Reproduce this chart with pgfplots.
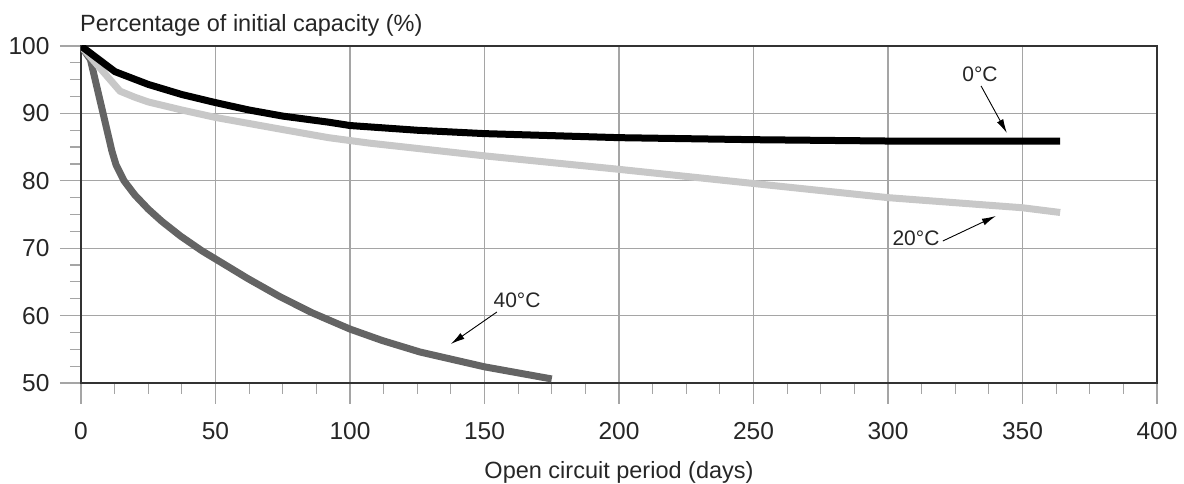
\documentclass[border=0pt]{standalone}
\usepackage{pgfplots}
\pgfplotsset{compat=1.18}
\usepackage{fontspec}
\setmainfont{Liberation Sans}
\usetikzlibrary{arrows.meta}
\definecolor{lightc}{RGB}{200,200,200}
\definecolor{darkc}{RGB}{100,100,100}
\definecolor{gridc}{RGB}{165,165,165}
\begin{document}
\begin{tikzpicture}
\begin{axis}[
  name=ax,
  scale only axis,
  width=1076pt, height=337pt,
  xmin=0, xmax=400, ymin=50, ymax=100,
  xtick={0,50,...,400}, ytick={50,60,...,100},
  minor x tick num=3, minor y tick num=3,
  tick align=outside,
  xtick pos=bottom, ytick pos=left,
  major tick length=21pt, minor tick length=11pt,
  grid=major,
  major grid style={color=gridc, line width=1.2pt},
  every tick/.style={color=gridc, line width=1.2pt},
  axis line style={color=black!80, line width=1.3pt},
  tick label style={font=\fontsize{24.5}{28}\selectfont, text=black!85},
  xticklabel style={yshift=-15pt},
  yticklabel style={xshift=-7pt},
  /pgf/number format/assume math mode=true,
  every axis plot/.append style={line join=round},
]
\addplot[color=darkc, line width=7pt] coordinates {
(0,100) (3.5,98) (11.5,84.4) (13,82.4) (16,80) (20,77.9) (25,75.8) (30,74.0)
(37,71.8) (45,69.6) (50,68.4) (62,65.5) (74,62.8) (86,60.4) (100,58.0) (112,56.3)
(126,54.6) (150,52.4) (175,50.6)};
\addplot[color=lightc, line width=7pt] coordinates {
(0,100) (3,98.6) (14.5,93.3) (20,92.4) (25,91.7) (37.5,90.5) (50,89.4) (62.5,88.5) (75,87.6) (92,86.4)
(107,85.6) (150,83.7) (200,81.7) (250,79.6) (300,77.5) (350,76.0) (364,75.3)};
\addplot[color=black, line width=7pt] coordinates {
(0,100) (12.6,96.2) (25,94.3) (37.5,92.8) (50,91.6) (62.5,90.5) (75,89.6) (92,88.7)
(100,88.2) (125,87.5) (150,87.0) (200,86.4) (250,86.1) (300,85.9) (364,85.9)};
\node[font=\fontsize{21}{25}\selectfont, text=black!85] at (axis cs:334.2,95.85) {0°C};
\draw[line width=0.9pt, -{Latex[length=14pt,width=7pt]}] (axis cs:334.6,94.07) -- (axis cs:344.2,87.09);
\node[font=\fontsize{21}{25}\selectfont, text=black!85] at (axis cs:310.4,71.51) {20°C};
\draw[line width=0.9pt, -{Latex[length=14pt,width=7pt]}] (axis cs:320.4,71.07) -- (axis cs:340.1,74.78);
\node[font=\fontsize{21}{25}\selectfont, text=black!85] at (axis cs:162.1,62.31) {40°C};
\draw[line width=0.9pt, -{Latex[length=14pt,width=7pt]}] (axis cs:154.6,60.53) -- (axis cs:137.5,55.79);
\end{axis}
\node[anchor=base, font=\fontsize{23.5}{28}\selectfont, text=black!85] at ([yshift=-96pt]ax.south) {Open circuit period (days)};
\node[anchor=base west, inner sep=0pt, font=\fontsize{23.5}{28}\selectfont, text=black!85] at ([yshift=14pt,xshift=-1pt]ax.north west) {Percentage of initial capacity (\%)};
\pgfresetboundingbox
\path ([shift={(-81pt,-101pt)}]ax.south west) rectangle ([shift={(1103pt,383pt)}]ax.south west);
\end{tikzpicture}
\end{document}
